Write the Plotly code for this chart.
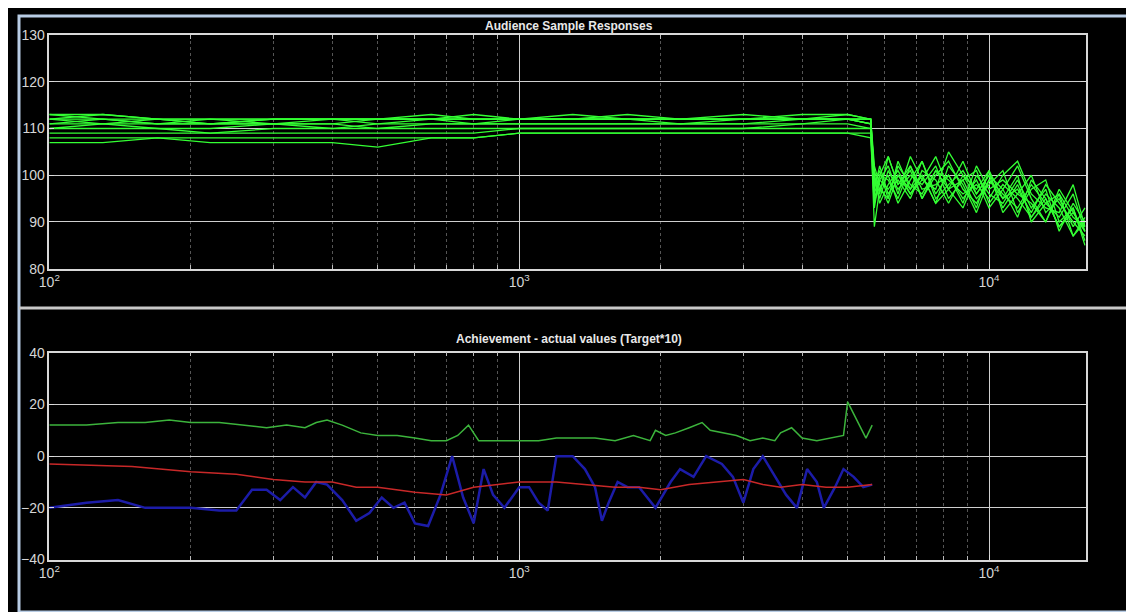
import plotly.graph_objects as go
from plotly.subplots import make_subplots

# top panel: audience sample responses (12 curves on a shared frequency grid)
freq_top = [100, 130, 170, 220, 300, 400, 500, 650, 800, 1000, 1300, 1700, 2200, 3000, 4000, 5000, 5600,
            5700, 5850, 6100, 6400, 6800, 7200, 7700, 8200, 8800, 9400, 10000, 10700, 11500, 12300, 13200,
            14100, 15100, 16000]

resp_1 = [113, 113, 112, 112, 112, 112, 112, 113, 112, 112, 112, 113, 112, 112, 113, 113, 112,
          100, 96, 104, 98, 102, 95, 101, 97, 103, 96, 100, 93, 98, 91, 95, 89, 92, 88]
resp_2 = [112, 112, 111, 112, 111, 112, 112, 112, 113, 112, 112, 112, 112, 112, 112, 112, 112,
          98, 101, 95, 103, 97, 100, 94, 102, 98, 92, 99, 95, 100, 90, 94, 96, 87, 91]
resp_3 = [111, 111, 110, 110, 111, 111, 110, 111, 111, 111, 111, 111, 111, 111, 112, 112, 111,
          95, 99, 102, 96, 104, 99, 97, 105, 100, 95, 98, 101, 92, 97, 99, 90, 93, 86]
resp_4 = [110, 110, 110, 109, 110, 110, 110, 110, 110, 110, 110, 110, 110, 110, 111, 111, 110,
          89, 97, 100, 94, 99, 103, 96, 100, 95, 99, 93, 97, 102, 95, 90, 96, 91, 89]
resp_5 = [109, 109, 109, 109, 109, 109, 109, 109, 109, 110, 110, 110, 110, 110, 110, 110, 110,
          100, 94, 98, 101, 96, 99, 104, 97, 93, 100, 96, 94, 99, 93, 97, 88, 94, 90]
resp_6 = [108, 108, 108, 108, 108, 108, 108, 108, 108, 109, 109, 109, 109, 109, 109, 109, 109,
          97, 102, 96, 99, 95, 101, 99, 94, 100, 97, 101, 92, 96, 100, 92, 95, 89, 93]
resp_7 = [107, 107, 108, 107, 107, 107, 106, 108, 108, 109, 109, 109, 109, 109, 109, 109, 108,
          93, 100, 104, 98, 101, 95, 100, 103, 97, 94, 99, 96, 93, 98, 94, 91, 96, 88]
resp_8 = [112, 113, 112, 111, 112, 112, 112, 112, 112, 112, 113, 112, 112, 113, 112, 113, 112,
          99, 95, 101, 97, 100, 98, 102, 95, 99, 101, 94, 98, 95, 91, 96, 93, 87, 90]
resp_9 = [113, 112, 112, 112, 112, 112, 112, 112, 112, 112, 112, 112, 112, 112, 112, 112, 112,
          102, 98, 94, 100, 97, 103, 95, 98, 101, 96, 100, 97, 91, 99, 95, 89, 93, 85]
resp_10 = [111, 112, 111, 111, 111, 111, 112, 112, 111, 112, 112, 112, 111, 112, 112, 112, 111,
           96, 100, 99, 95, 102, 97, 98, 100, 94, 102, 97, 99, 96, 94, 90, 97, 92, 88]
resp_11 = [110, 111, 111, 111, 111, 110, 111, 111, 111, 111, 111, 111, 111, 111, 111, 112, 111,
           101, 97, 95, 102, 98, 96, 101, 99, 96, 98, 95, 100, 103, 96, 93, 92, 98, 89]
resp_12 = [112, 111, 112, 111, 112, 112, 111, 112, 112, 112, 112, 112, 112, 112, 112, 112, 112,
           94, 99, 97, 100, 96, 100, 94, 97, 99, 93, 101, 95, 97, 92, 98, 94, 90, 87]

responses = [resp_1, resp_2, resp_3, resp_4, resp_5, resp_6, resp_7, resp_8, resp_9, resp_10, resp_11, resp_12]

# bottom panel: achievement curves
green_freq = [100, 120, 140, 160, 180, 200, 230, 260, 290, 320, 350, 370, 390, 420, 460, 500, 550, 600, 650,
              700, 740, 780, 820, 870, 930, 1000, 1100, 1200, 1300, 1450, 1600, 1750, 1900, 1950, 2050, 2150,
              2300, 2450, 2550, 2700, 2900, 3100, 3300, 3500, 3600, 3800, 4000, 4300, 4600, 4900, 5000, 5200,
              5470, 5640]
green_vals = [12, 12, 13, 13, 14, 13, 13, 12, 11, 12, 11, 13, 14, 12, 9, 8, 8, 7, 6, 6, 8, 12, 6, 6, 6,
              6, 6, 7, 7, 7, 6, 8, 6, 10, 8, 9, 11, 13, 10, 9, 8, 6, 7, 6, 9, 11, 7, 6, 7, 8, 21, 15, 7, 12]

red_freq = [100, 150, 200, 250, 300, 350, 400, 450, 500, 600, 700, 800, 900, 1000, 1200, 1400, 1600, 1800,
            2000, 2300, 2600, 3000, 3300, 3600, 4000, 4500, 5000, 5640]
red_vals = [-3, -4, -6, -7, -9, -10, -10, -12, -12, -14, -15, -12, -11, -10, -10, -11, -12, -12, -13, -11,
            -10, -9, -11, -12, -11, -12, -12, -11]

blue_freq = [100, 120, 140, 160, 180, 200, 230, 250, 270, 290, 310, 330, 350, 370, 390, 420, 450, 480, 510,
             540, 570, 600, 640, 680, 720, 760, 800, 840, 880, 930, 1000, 1050, 1100, 1150, 1200, 1300, 1380,
             1450, 1500, 1550, 1620, 1700, 1800, 1950, 2100, 2200, 2350, 2500, 2700, 2850, 3000, 3150, 3300,
             3500, 3700, 3900, 4100, 4300, 4450, 4700, 4900, 5150, 5400, 5640]
blue_vals = [-20, -18, -17, -20, -20, -20, -21, -21, -13, -13, -17, -12, -16, -10, -11, -17, -25, -22, -16,
             -20, -18, -26, -27, -15, 0, -16, -26, -5, -15, -20, -12, -12, -18, -21, 0, 0, -5, -12, -25, -18,
             -10, -12, -12, -20, -10, -5, -8, 0, -3, -8, -18, -5, 0, -8, -15, -20, -5, -10, -20, -12, -5, -8,
             -12, -11]

major_ticks = [100, 1000, 10000]
major_text = ["10<sup>2</sup>", "10<sup>3</sup>", "10<sup>4</sup>"]
minor_ticks = [m * d for d in (100, 1000) for m in range(2, 10)]

fig = make_subplots(rows=2, cols=1)

for r in responses:
    fig.add_trace(go.Scatter(x=freq_top, y=r, mode="lines", line=dict(color="#33ff33", width=1.3)), row=1, col=1)

fig.add_trace(go.Scatter(x=green_freq, y=green_vals, mode="lines", line=dict(color="#3cb43c", width=1.5)), row=2, col=1)
fig.add_trace(go.Scatter(x=blue_freq, y=blue_vals, mode="lines", line=dict(color="#1c1ca8", width=2.5)), row=2, col=1)
fig.add_trace(go.Scatter(x=red_freq, y=red_vals, mode="lines", line=dict(color="#c82828", width=1.5)), row=2, col=1)

xaxis_style = dict(
    type="log", range=[2, 4.206], tickvals=major_ticks, ticktext=major_text,
    showgrid=True, gridcolor="#cfcfcf", gridwidth=1, ticks="inside", tickcolor="#dddddd",
    showline=True, linecolor="#d8d8d8", linewidth=1.5, mirror="ticks", zeroline=False,
    tickfont=dict(size=14),
    minor=dict(tickvals=minor_ticks, showgrid=True, griddash="dot", gridcolor="#555555",
               ticks="inside", tickcolor="#bbbbbb", ticklen=4),
)
yaxis_style = dict(
    showgrid=True, gridcolor="#cfcfcf", gridwidth=1, ticks="inside", tickcolor="#dddddd",
    showline=True, linecolor="#d8d8d8", linewidth=1.5, mirror="ticks", zeroline=False,
    tickfont=dict(size=14),
)

fig.update_xaxes(**xaxis_style)
fig.update_yaxes(**yaxis_style)
fig.update_xaxes(domain=[0.027, 0.950], row=1, col=1)
fig.update_xaxes(domain=[0.027, 0.950], row=2, col=1)
fig.update_yaxes(domain=[0.576, 0.968], range=[80, 130], dtick=10, row=1, col=1)
fig.update_yaxes(domain=[0.088, 0.435], range=[-40, 40], dtick=20, row=2, col=1)

fig.update_layout(
    width=1134, height=612,
    margin=dict(l=0, r=0, t=0, b=0),
    paper_bgcolor="black", plot_bgcolor="black",
    showlegend=False,
    font=dict(family="Liberation Sans, Arial, sans-serif", size=13, color="#d6d6d6"),
    annotations=[
        dict(text="<b>Audience Sample Responses</b>", x=0.49, y=0.968, xref="paper", yref="paper",
             yanchor="bottom", showarrow=False, font=dict(size=12, color="#e8e8e8")),
        dict(text="<b>Achievement - actual values (Target*10)</b>", x=0.49, y=0.458, xref="paper", yref="paper",
             yanchor="middle", showarrow=False, font=dict(size=12, color="#e8e8e8")),
    ],
    shapes=[
        dict(type="rect", xref="paper", yref="paper", x0=0, x1=1, y0=0, y1=1, layer="below",
             line=dict(color="#b8cce4", width=3)),
        dict(type="line", xref="paper", yref="paper", x0=0, x1=1, y0=0.51, y1=0.51,
             line=dict(color="#c8c8c8", width=3)),
    ],
)

fig.write_html("out.html")
